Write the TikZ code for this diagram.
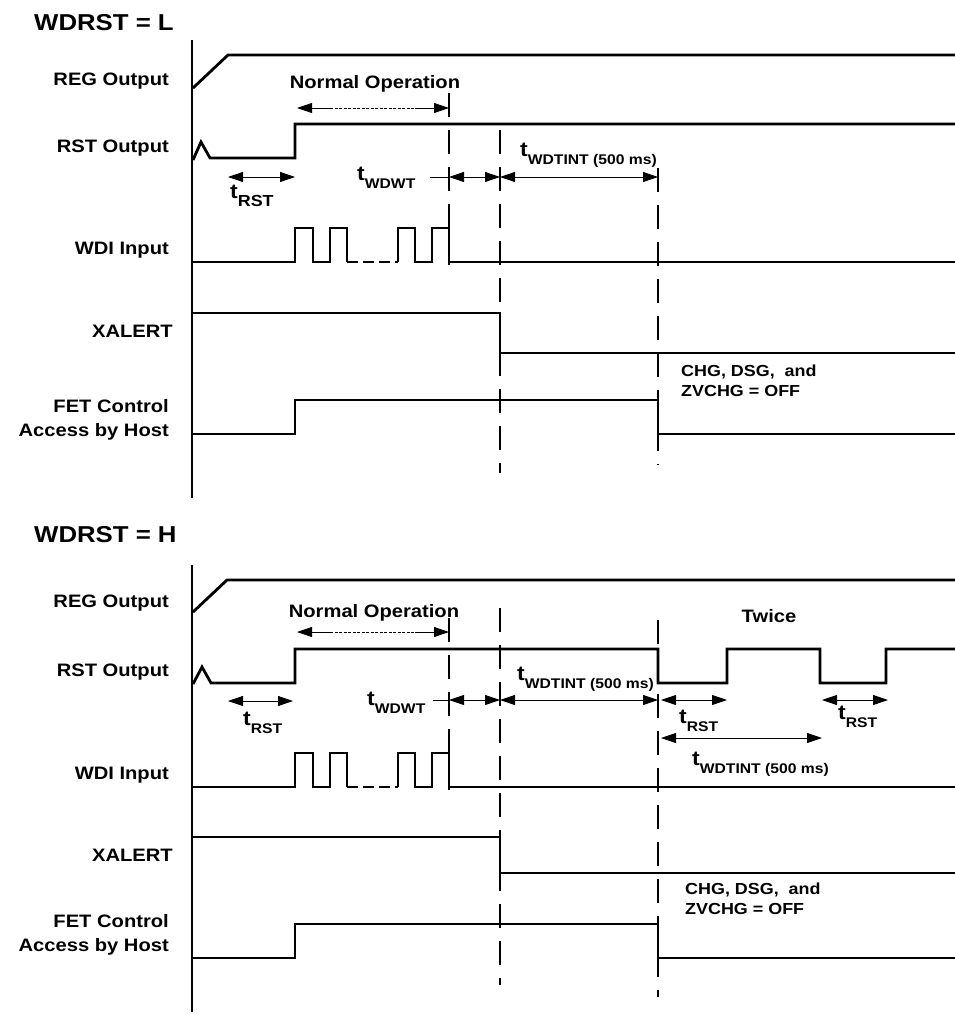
\documentclass[tikz,border=0pt]{standalone}
\usepackage{fontspec}
\setmainfont[FakeStretch=1.12]{Liberation Sans}
\usetikzlibrary{arrows.meta}

\newcommand{\tsub}[2][14]{{\fontsize{20.5}{20.5}\selectfont t}\raisebox{-8pt}{\fontsize{#1}{#1}\selectfont #2}}

\tikzset{
  sig/.style={line width=2.8pt, line join=miter},
  axisline/.style={line width=2.8pt},
  guide/.style={line width=1.1pt, dash pattern=on 24pt off 13pt},
  dim/.style={line width=0.8pt, {Triangle[length=15pt,width=10pt]}-{Triangle[length=15pt,width=10pt]}},
  onearrow/.style={line width=0.8pt, -{Triangle[length=15pt,width=10pt]}},
  lbl/.style={font=\bfseries\fontsize{18}{24}\selectfont, inner sep=0pt, anchor=base east},
  heading/.style={font=\bfseries\fontsize{23}{26}\selectfont, inner sep=0pt, anchor=base west},
  tlbl/.style={font=\bfseries, inner sep=0pt, anchor=base west},
  note/.style={font=\bfseries\fontsize{16}{20}\selectfont, inner sep=0pt, anchor=north west, align=left},
}

\begin{document}
\begin{tikzpicture}[x=1pt, y=-1pt]
\useasboundingbox (0,0) rectangle (955,1015);

%%%%%%%%%%%%%%%% WDRST = L %%%%%%%%%%%%%%%%
\node[heading] (titleL) at (34,30) {WDRST = L};

% time axis
\draw[axisline] (192,40) -- (192,498);

% signal names
\node[lbl] (regL) at (169,85) {REG Output};
\node[lbl] (rstL) at (169,152) {RST Output};
\node[lbl] (wdiL) at (169,254) {WDI Input};
\node[lbl] (xalL) at (173,337) {XALERT};
\node[lbl, anchor=east, align=right] (fetL) at (169,420) {FET Control\\Access by Host};

% guide lines
\draw[guide] (449,93) -- (449,270);
\draw[guide] (500,130) -- (500,473);
\draw[guide] (658,168) -- (658,465);

% waveforms
\draw[sig] (193,88) -- (228,55) -- (955,55);
\draw[sig] (193,160) -- (201,142) -- (210,158) -- (295,158) -- (295,124) -- (955,124);
\draw[sig] (193,262) -- (295,262) -- (295,228) -- (313,228) -- (313,262) -- (330,262)
           -- (330,228) -- (347,228) -- (347,262);
\draw[sig, dash pattern=on 11pt off 5pt] (347,262) -- (398,262);
\draw[sig] (398,262) -- (398,228) -- (415,228) -- (415,262) -- (432,262) -- (432,228)
           -- (449,228) -- (449,262) -- (955,262);
\draw[sig, line width=2pt] (193,313) -- (500,313) -- (500,353) -- (955,353);
\draw[sig] (193,434) -- (295,434) -- (295,400) -- (658,400) -- (658,434) -- (955,434);

% timing marks
\node[lbl, anchor=base] (normL) at (375,88) {Normal Operation};
\draw[onearrow] (330,108) -- (297,108);
\draw[line width=0.8pt, dash pattern=on 3pt off 1.5pt] (330,108) -- (415,108);
\draw[onearrow] (415,108) -- (449,108);

\draw[dim] (228,177) -- (295,177);
\node[tlbl] (trstL) at (230,198) {\tsub[16]{RST}};
\draw[line width=0.8pt] (430,177) -- (449,177);
\draw[dim] (449,177) -- (500,177);
\node[tlbl] (twdwtL) at (357,180) {\tsub{WDWT}};
\draw[dim] (500,177) -- (658,177);
\node[tlbl] (tintL) at (520,156) {\tsub{WDTINT (500 ms)}};

\node[note] (offL) at (681,365) {CHG, DSG,\ \ and\\ZVCHG = OFF};

%%%%%%%%%%%%%%%% WDRST = H %%%%%%%%%%%%%%%%
\node[heading] (titleH) at (34,542) {WDRST = H};

% time axis
\draw[axisline] (192,565) -- (192,1012);

% signal names
\node[lbl] (regH) at (169,607) {REG Output};
\node[lbl] (rstH) at (169,676) {RST Output};
\node[lbl] (wdiH) at (169,779) {WDI Input};
\node[lbl] (xalH) at (173,861) {XALERT};
\node[lbl, anchor=east, align=right] (fetH) at (169,935) {FET Control\\Access by Host};

% guide lines
\draw[guide] (449,618) -- (449,795);
\draw[guide] (500,608) -- (500,985);
\draw[guide] (658,620) -- (658,997);

% waveforms
\draw[sig] (193,612) -- (227,580) -- (955,580);
\draw[sig] (193,684) -- (202,667) -- (211,683) -- (295,683) -- (295,649) -- (658,649)
           -- (658,683) -- (727,683) -- (727,649) -- (820,649) -- (820,683) -- (886,683)
           -- (886,649) -- (955,649);
\draw[sig] (193,787) -- (295,787) -- (295,753) -- (313,753) -- (313,787) -- (330,787)
           -- (330,753) -- (347,753) -- (347,787);
\draw[sig, dash pattern=on 11pt off 5pt] (347,787) -- (398,787);
\draw[sig] (398,787) -- (398,753) -- (415,753) -- (415,787) -- (432,787) -- (432,753)
           -- (449,753) -- (449,787) -- (955,787);
\draw[sig] (193,837) -- (500,837) -- (500,873) -- (955,873);
\draw[sig] (193,958) -- (295,958) -- (295,924) -- (658,924) -- (658,958) -- (955,958);

% timing marks
\node[lbl, anchor=base] (normH) at (374,617) {Normal Operation};
\draw[onearrow] (330,632) -- (297,632);
\draw[line width=0.8pt, dash pattern=on 3pt off 1.5pt] (330,632) -- (415,632);
\draw[onearrow] (415,632) -- (449,632);

\node[lbl, anchor=base] (twiceH) at (769,622) {Twice};

\draw[dim] (228,701) -- (293,701);
\node[tlbl] (trstH) at (243,725) {\tsub{RST}};
\draw[line width=0.8pt] (433,700) -- (449,700);
\draw[dim] (449,700) -- (500,700);
\node[tlbl] (twdwtH) at (367,705) {\tsub{WDWT}};
\draw[dim] (500,700) -- (658,700);
\node[tlbl] (tintH) at (517,680) {\tsub{WDTINT (500 ms)}};

\draw[dim] (661,700) -- (727,700);
\node[tlbl] (trstH2) at (679,723) {\tsub{RST}};
\draw[dim] (822,700) -- (888,700);
\node[tlbl] (trstH3) at (838,719) {\tsub{RST}};
\draw[dim] (661,738) -- (822,738);
\node[tlbl] (tintH2) at (692,765) {\tsub{WDTINT (500 ms)}};

\node[note] (offH) at (685,883) {CHG, DSG,\ \ and\\ZVCHG = OFF};
\end{tikzpicture}
\end{document}
